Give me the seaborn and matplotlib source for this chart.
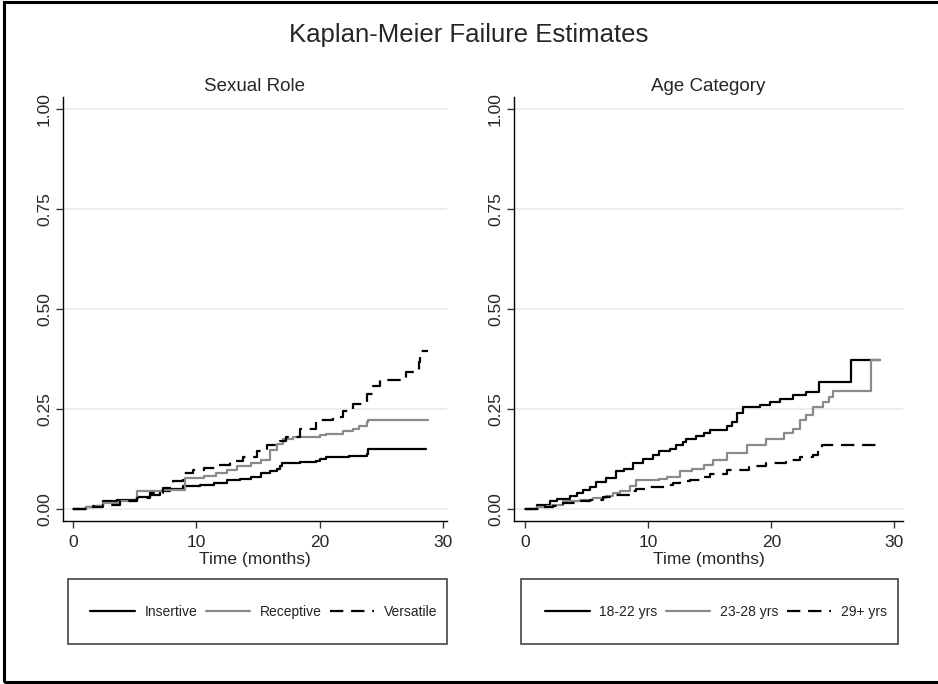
import matplotlib
matplotlib.use("Agg")
import matplotlib.pyplot as plt
import seaborn as sns
import pandas as pd
from matplotlib.lines import Line2D
from matplotlib.patches import Rectangle

# Kaplan-Meier failure estimates (months, failure proportion)
insertive_t = [0, 1.1, 1.65, 2.46, 3.54, 5.16, 6.24, 7.05, 7.86, 8.95, 10.3, 11.4, 12.5,
               13.5, 14.4, 15.2, 16.0, 16.5, 16.8, 16.9, 18.4, 19.7, 20.0, 20.5, 22.4,
               23.8, 23.9, 28.6]
insertive_f = [0, .004, .008, .019, .023, .03, .036, .044, .05, .057, .061, .065, .072,
               .075, .08, .09, .094, .10, .108, .115, .118, .121, .125, .129, .133,
               .138, .15, .15]
receptive_t = [0, 1.1, 1.9, 2.46, 3.8, 5.16, 7.3, 9.1, 10.6, 11.6, 12.5, 13.3, 14.4, 15.2,
               16.0, 16.5, 17.0, 17.8, 20.0, 20.5, 21.9, 22.7, 23.2, 23.8, 23.9, 28.8]
receptive_f = [0, .004, .008, .015, .019, .044, .048, .0775, .082, .09, .098, .107, .115,
               .123, .148, .163, .175, .179, .185, .188, .196, .20, .208, .217, .223, .223]
versatile_t = [0, 1.6, 2.46, 3.8, 5.16, 6.24, 7.3, 8.1, 8.95, 9.76, 10.6, 11.6, 12.7,
               13.8, 14.9, 15.7, 16.8, 17.3, 18.4, 19.7, 21.1, 21.9, 22.7, 23.8, 24.3,
               24.9, 27.0, 28.0, 28.1, 28.8]
versatile_f = [0, .004, .011, .019, .0275, .04, .0525, .069, .09, .098, .1025, .11, .119,
               .13, .144, .16, .171, .179, .20, .223, .229, .246, .263, .288, .308,
               .323, .343, .367, .396, .396]

age1_t = [0, 0.95, 2.0, 2.57, 3.65, 4.2, 4.7, 5.27, 5.8, 6.6, 7.4, 8.0, 8.8, 9.6, 10.4,
          10.9, 11.8, 12.3, 12.8, 13.1, 13.9, 14.5, 15.0, 16.4, 16.8, 17.2, 17.7, 19.1,
          19.9, 20.7, 21.8, 22.8, 23.9, 26.5, 28.8]
age1_f = [0, .011, .019, .025, .032, .04, .047, .055, .067, .0775, .094, .10, .115, .125,
          .136, .144, .15, .161, .167, .175, .183, .19, .1975, .2075, .218, .239, .256,
          .26, .268, .274, .285, .293, .318, .373, .373]
age2_t = [0, 0.95, 1.76, 2.3, 3.1, 4.46, 5.54, 6.6, 7.16, 7.7, 8.5, 9.05, 10.9, 11.5,
          12.6, 13.6, 14.5, 15.3, 16.4, 18.0, 19.6, 21.0, 21.8, 22.3, 22.8, 23.4, 24.2,
          24.7, 25.0, 28.1, 28.8]
age2_f = [0, .004, .007, .011, .019, .023, .0275, .032, .04, .044, .057, .073, .076, .081,
          .094, .10, .11, .123, .139, .16, .174, .189, .20, .2225, .235, .256, .268, .28,
          .296, .373, .373]
age3_t = [0, 1.5, 2.3, 3.1, 4.2, 5.3, 6.35, 7.4, 8.5, 9.05, 10.1, 11.5, 12.0, 12.6, 13.4,
          14.2, 15.0, 16.4, 18.2, 19.6, 21.2, 22.3, 23.4, 23.8, 24.1, 28.8]
age3_f = [0, .004, .008, .015, .019, .023, .029, .036, .044, .05, .055, .061, .065, .069,
          .073, .08, .088, .0975, .1075, .114, .1225, .129, .135, .1475, .16, .16]

role_labels = ["Insertive", "Receptive", "Versatile"]
age_labels = ["18-22 yrs", "23-28 yrs", "29+ yrs"]


def long_df(groups, labels):
    frames = []
    for (t, f), lab in zip(groups, labels):
        frames.append(pd.DataFrame({"time": t, "fail": f, "group": lab}))
    return pd.concat(frames, ignore_index=True)


role_df = long_df([(insertive_t, insertive_f), (receptive_t, receptive_f),
                   (versatile_t, versatile_f)], role_labels)
age_df = long_df([(age1_t, age1_f), (age2_t, age2_f), (age3_t, age3_f)], age_labels)

sns.set_style("white")
plt.rcParams["font.family"] = ["Liberation Sans", "DejaVu Sans"]

colors = ["black", "#8a8a8a", "black"]
dash_styles = ["", "", (6, 3.5)]

fig = plt.figure(figsize=(9.38, 6.84), dpi=100)
W, H = 938, 684


def px_axes(x0, y0, x1, y1):
    return fig.add_axes([x0 / W, 1 - y1 / H, (x1 - x0) / W, (y1 - y0) / H])


ax1 = px_axes(63, 97, 447, 521)
ax2 = px_axes(514, 97, 903, 521)

panels = [(ax1, role_df, role_labels, "Sexual Role", (-0.8, 30.3)),
          (ax2, age_df, age_labels, "Age Category", (-0.9, 30.7))]

for ax, df, labels, title, xlim in panels:
    for y in [0, 0.25, 0.5, 0.75, 1.0]:
        ax.axhline(y, color="#e6eef0", lw=1.2, zorder=0)
    sns.lineplot(data=df, x="time", y="fail", hue="group", style="group",
                 hue_order=labels, style_order=labels,
                 palette=dict(zip(labels, colors)),
                 dashes=dict(zip(labels, dash_styles)),
                 estimator=None, drawstyle="steps-post", lw=1.6,
                 legend=False, ax=ax)
    ax.set_xlim(*xlim)
    ax.set_ylim(-0.03, 1.03)
    ax.set_xticks([0, 10, 20, 30])
    ax.set_yticks([0, 0.25, 0.5, 0.75, 1.0])
    ax.set_yticklabels(["0.00", "0.25", "0.50", "0.75", "1.00"], rotation=90, va="center")
    ax.tick_params(axis="both", direction="out", length=5, width=1, color="#333333",
                   labelsize=12.5, left=True, bottom=True)
    ax.tick_params(axis="x", pad=5)
    ax.tick_params(axis="y", pad=3)
    for s in ["top", "right"]:
        ax.spines[s].set_visible(False)
    for s in ["left", "bottom"]:
        ax.spines[s].set_color("black")
        ax.spines[s].set_linewidth(1)
    ax.set_ylabel("")
    ax.set_xlabel("Time (months)", fontsize=12.5, labelpad=1.5)
    ax.set_title(title, fontsize=13.5, pad=4)

fig.text(0.5, 1 - 35 / H, "Kaplan-Meier Failure Estimates", ha="center", va="center",
         fontsize=18.5)

# legend boxes below each panel
for (x0, x1), labels in [((68, 447), role_labels), ((521, 898), age_labels)]:
    fig.patches.append(Rectangle((x0 / W, 1 - 644 / H), (x1 - x0) / W, 65 / H,
                                 transform=fig.transFigure, fill=False,
                                 edgecolor="#444444", lw=1.2))
    handles = [Line2D([], [], color=c, lw=1.6, dashes=d if d else (None, None))
               for c, d in zip(colors, dash_styles)]
    fig.legend(handles, labels, loc="center",
               bbox_to_anchor=((x0 + x1) / 2 / W + 0.007, 1 - 612 / H),
               ncol=3, frameon=False, fontsize=10, handlelength=3.2,
               handletextpad=0.7, columnspacing=0.6, labelcolor="#222222")

# outer frame
fig.patches.append(Rectangle((0.004, 0.003), 1.2, 0.994, transform=fig.transFigure,
                             fill=False, edgecolor="black", lw=2.2))

fig.savefig("out.png", dpi=100)
